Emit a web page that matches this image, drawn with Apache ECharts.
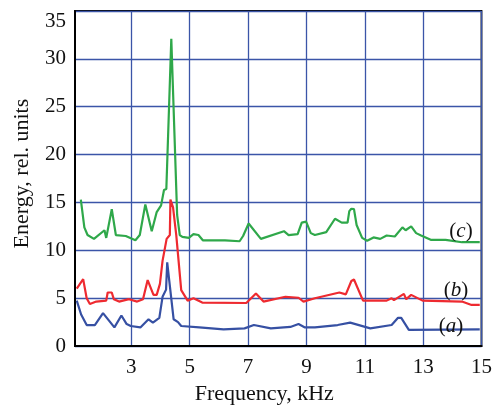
<!DOCTYPE html>
<html><head><meta charset="utf-8">
<script src="https://cdn.jsdelivr.net/npm/echarts@6/dist/echarts.min.js"></script>
<style>html,body{margin:0;padding:0;background:#fff}#c{width:495px;height:410px}</style>
</head><body><div id="c"></div>
<script>
var xTicks = [3, 5, 7, 9, 11, 13, 15];
var yTicks = [0, 5, 10, 15, 20, 25, 30, 35];

var freqA = [1.13,1.28,1.47,1.75,2.03,2.42,2.66,2.84,2.98,3.31,3.59,3.74,3.96,4.07,4.19,4.23,4.30,4.45,4.60,4.71,5.33,6.16,6.88,7.20,7.78,8.45,8.73,8.95,9.29,10.07,10.50,11.19,11.92,12.14,12.25,12.51,14.94];
var energyA = [4.75,3.3,2.2,2.2,3.45,1.95,3.2,2.3,2.1,1.95,2.8,2.45,2.95,5.15,5.9,8.75,6.85,2.8,2.5,2.1,1.95,1.75,1.85,2.2,1.85,2.0,2.3,1.95,1.95,2.2,2.45,1.85,2.2,2.95,2.95,1.7,1.75];

var freqB = [1.13,1.35,1.47,1.58,1.80,2.14,2.19,2.33,2.40,2.58,2.92,3.20,3.40,3.56,3.62,3.76,3.87,3.98,4.07,4.21,4.32,4.34,4.43,4.54,4.71,4.93,5.13,5.43,6.94,7.27,7.53,8.28,8.73,8.90,9.29,10.13,10.35,10.54,10.63,10.94,11.75,11.92,12.00,12.34,12.42,12.59,12.98,14.33,14.66,14.94];
var energyB = [6.0,7.0,5.0,4.4,4.65,4.75,5.6,5.6,4.9,4.65,4.9,4.65,4.9,6.9,7.1,5.35,5.35,6.5,8.9,11.2,11.6,15.3,14.5,11.6,5.85,4.75,5.0,4.55,4.5,5.5,4.65,5.15,5.05,4.65,5.0,5.6,5.4,6.8,6.95,4.75,4.75,5.0,4.8,5.45,4.9,5.35,4.75,4.65,4.3,4.3];

var freqC = [1.27,1.39,1.50,1.55,1.72,2.08,2.14,2.33,2.47,2.81,3.14,3.29,3.48,3.70,3.87,4.02,4.12,4.20,4.37,4.57,4.66,4.75,4.97,5.13,5.30,5.45,6.21,6.71,6.83,7.02,7.44,8.23,8.39,8.70,8.84,8.99,9.15,9.29,9.68,9.98,10.21,10.41,10.47,10.54,10.63,10.72,10.91,11.08,11.30,11.53,11.75,12.03,12.29,12.40,12.59,12.76,12.93,13.26,13.77,14.33,14.94];
var energyC = [15.3,12.4,11.6,11.5,11.2,12.1,11.3,14.3,11.6,11.5,11.05,11.6,14.8,12.0,14.0,14.7,16.3,16.4,32.1,13.7,11.6,11.4,11.3,11.7,11.6,11.05,11.05,10.95,11.5,12.8,11.2,12.0,11.6,11.7,12.9,13.0,11.8,11.6,11.9,13.3,12.9,12.9,14.1,14.35,14.3,12.65,11.3,11.0,11.35,11.2,11.55,11.45,12.4,12.1,12.5,11.8,11.55,11.1,11.1,10.85,10.85];

var curveLetters = ['a', 'b', 'c'];

function pairs(xs, ys) { return xs.map(function (x, i) { return [x, ys[i]]; }); }

var font = '"Liberation Serif", "DejaVu Serif", serif';
var gridColor = '#3b55a8';

var chart = echarts.init(document.getElementById('c'), null, {renderer: 'canvas'});
function mkSeries(name, xs, ys, color) {
  return {
    name: name, type: 'line', data: pairs(xs, ys), symbol: 'none', z: 5,
    lineStyle: {color: color, width: 2.2}, animation: false
  };
}
var opt = {
  animation: false,
  grid: {left: 75, right: 5, top: 11, bottom: 56, show: true, borderColor: '#000', borderWidth: 1.8, backgroundColor: 'transparent'},
  xAxis: {
    type: 'value', min: 1.07, max: 15,
    axisLine: {show: true, onZero: false, lineStyle: {color: '#000', width: 2}},
    axisTick: {show: false, customValues: xTicks},
    axisLabel: {customValues: xTicks, fontFamily: font, fontSize: 21, color: '#111', margin: 11},
    splitLine: {show: true, lineStyle: {color: gridColor, width: 1.3}},
    name: 'Frequency, kHz', nameLocation: 'middle', nameGap: 33,
    nameTextStyle: {fontFamily: font, fontSize: 22, color: '#111', padding: [0, 28, 0, 0]}
  },
  yAxis: {
    type: 'value', min: 0, max: 35, interval: 5,
    axisLine: {show: true, lineStyle: {color: '#000', width: 2}},
    axisTick: {show: false},
    axisLabel: {fontFamily: font, fontSize: 21, color: '#111', margin: 9, verticalAlignMaxLabel: 'top',
      customValues: yTicks},
    splitLine: {show: true, lineStyle: {color: gridColor, width: 1.3}},
    name: 'Energy, rel. units', nameLocation: 'middle', nameGap: 42,
    nameTextStyle: {fontFamily: font, fontSize: 22, color: '#111', padding: [0, 0, 0, 10]}
  },
  series: [
    mkSeries('(a)', freqA, energyA, '#3650a3'),
    mkSeries('(b)', freqB, energyB, '#ee2a30'),
    mkSeries('(c)', freqC, energyC, '#2fa84a')
  ]
};
chart.setOption(opt);

var labelPos = [[451, 326], [456, 290], [461, 231]];
var gfx = curveLetters.map(function (l, i) {
  return {
    type: 'text', x: labelPos[i][0], y: labelPos[i][1], z: 20,
    style: {
      text: '(' + '{i|' + l + '})',
      rich: {i: {fontFamily: font, fontSize: 21, fontStyle: 'italic', fill: '#111'}},
      fontFamily: font, fontSize: 21, fill: '#111', align: 'center', verticalAlign: 'middle'
    }
  };
});
chart.setOption({graphic: gfx});
</script></body></html>
